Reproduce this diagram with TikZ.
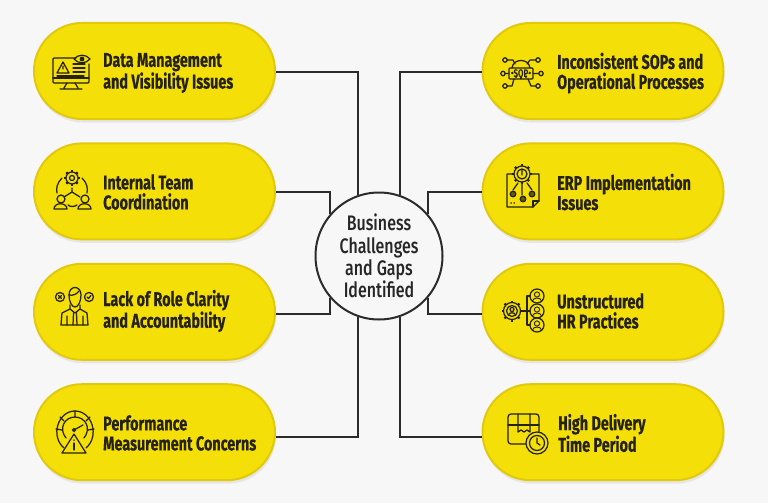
\documentclass[tikz,border=0pt]{standalone}
\usepackage{fontspec}
\setmainfont{Fira Sans}[FakeStretch=0.72]
\newfontfamily\hubfont{Fira Sans Medium}[FakeStretch=0.76]
\usetikzlibrary{positioning, shapes.misc, shadows}
\definecolor{pageGrey}{HTML}{F7F7F8}
\definecolor{pillYellow}{HTML}{F4DF08}
\definecolor{pillEdge}{HTML}{E2C90C}
\definecolor{inkDark}{HTML}{262210}
\definecolor{linkDark}{HTML}{2B2B2B}
\tikzset{
  pill/.style={rounded rectangle, draw=pillEdge, line width=2pt, fill=pillYellow, minimum width=241pt, minimum height=96pt, inner sep=0pt,
    drop shadow={opacity=0.14, shadow xshift=1pt, shadow yshift=-3.5pt}},
  pilltext/.style={anchor=west, align=left, inner sep=0pt, text=inkDark, font=\fontsize{20}{20}\selectfont\bfseries\addfontfeature{FakeBold=0.4}},
  link/.style={draw=linkDark, line width=1.7pt, line join=miter},
  icon/.style={draw=inkDark, line width=1.25pt, line cap=round, line join=round},
  hubtext/.style={font=\fontsize{21}{22.3}\hubfont, align=center, text=black!85}
}
% small gear: centre x, centre y, radius
\newcommand{\gearIcon}[3]{
  \draw[icon] (#1,#2) circle[radius=#3pt];
  \foreach \a in {0,45,...,315}
    \draw[icon, line width=2.2pt, line cap=butt] (#1,#2) ++(\a:#3) -- ++(\a:2);
}
% head and shoulders inside a circle
\newcommand{\ringPerson}[2]{
  \draw[icon] (#1,#2) circle[radius=7pt];
  \draw[icon, line width=.9pt] (#1,#2-1.5) circle[radius=2.6pt];
  \draw[icon, line width=.9pt] (#1-4.5,#2+5) .. controls (#1-4,#2+1) and (#1+4,#2+1) .. (#1+4.5,#2+5);
}
\begin{document}
\begin{tikzpicture}[x=1pt, y=-1pt, node distance=120.4pt]
  \useasboundingbox (0,0) rectangle (768,503);
  \fill[pageGrey] (0,0) rectangle (768,503);

  % Centre
  \node[circle, draw=linkDark, line width=2pt, fill=pageGrey, minimum size=127pt, inner sep=0pt] (hub) at (379,256) {};

  % Left column
  \node[pill] (data) at (154.5,71) {};
  \node[pill, below of=data] (team) {};
  \node[pill, below of=team] (role) {};
  \node[pill, below of=role] (perf) {};

  % Right column
  \node[pill] (sop) at (603,71) {};
  \node[pill, below of=sop] (erp) {};
  \node[pill, below of=erp] (hr) {};
  \node[pill, below of=hr] (delivery) {};

  % Connectors
  \draw[link] ([yshift=-1pt]data.east) -| (hub.109);
  \draw[link] ([yshift=-.3pt]team.east) -| (hub.139);
  \draw[link] ([yshift=-2.5pt]role.east) -| (hub.221);
  \draw[link] ([yshift=-5pt]perf.east) -| (hub.251);
  \draw[link] ([yshift=-1pt]sop.west) -| (hub.71);
  \draw[link] ([yshift=-.3pt]erp.west) -| (hub.41);
  \draw[link] ([yshift=-2.5pt]hr.west) -| (hub.319);
  \draw[link] ([yshift=-5pt]delivery.west) -| (hub.289);

  % Labels
  \node[hubtext] (hubText) at (hub) {Business\\Challenges\\and Gaps\\Identified};
  \node[pilltext] (dataText) at (103,73) {Data Management\\and Visibility Issues};
  \node[pilltext] (teamText) at (103,192) {Internal Team\\Coordination};
  \node[pilltext] (roleText) at (103,311) {Lack of Role Clarity\\and Accountability};
  \node[pilltext] (perfText) at (103,433) {Performance\\Measurement Concerns};
  \node[pilltext] (sopText) at (557,73) {Inconsistent SOPs and\\Operational Processes};
  \node[pilltext] (erpText) at (557,192) {ERP Implementation\\Issues};
  \node[pilltext] (hrText) at (557,311) {Unstructured\\HR Practices};
  \node[pilltext] (deliveryText) at (558,433) {High Delivery\\Time Period};

  % Icon: monitor
  \draw[icon] (76,58) -- (54,58) -- (53,59) -- (53,82) -- (54,83) -- (88,83) -- (89,82) -- (89,64);
  \draw[icon] (53,78) -- (89,78);
  \draw[icon] (67,83) -- (64,88) (75,83) -- (78,88) (60,89) -- (82,89);
  \draw[icon] (63,62) -- (69,73) -- (57,73) -- cycle (63,66) -- (63,69);
  \draw[icon] (73,64) -- (85,64) (73,68) -- (85,68) (73,72) -- (85,72) (57,76) -- (84,76);
  \draw[icon] (74,59) .. controls (78,54) and (86,54) .. (90,59) .. controls (86,64) and (78,64) .. (74,59);
  \fill[inkDark] (82,59) circle[radius=2.4pt];

  % Icon: team
  \gearIcon{72}{178}{6}
  \draw[icon] (72,178) circle[radius=2.5pt];
  \draw[icon] (62,178) .. controls (57,183) and (56,188) .. (57,193);
  \draw[icon] (82,178) .. controls (87,183) and (88,188) .. (87,193);
  \draw[icon] (72,188) -- (72,192) -- (64,197) (72,192) -- (80,197) (68,205) .. controls (70,207) and (74,207) .. (77,205);
  \draw[icon] (61,199) circle[radius=4pt] (85,199) circle[radius=4pt];
  \draw[icon] (54,209) .. controls (54,202) and (67,202) .. (67,209) -- cycle;
  \draw[icon] (78,209) .. controls (78,202) and (91,202) .. (91,209) -- cycle;

  % Icon: person
  \draw[icon] (60,297) circle[radius=4.5pt] (89,297) circle[radius=4.5pt];
  \draw[icon] (58.5,295.5) -- (61.5,298.5) (61.5,295.5) -- (58.5,298.5);
  \draw[icon] (87,297) -- (88.5,298.5) -- (91,295.5);
  \draw[icon] (69,295) .. controls (69,285) and (81,285) .. (81,295) .. controls (81,302) and (78,307) .. (75,307) .. controls (72,307) and (69,302) .. (69,295);
  \draw[icon] (69,295) .. controls (73,296) and (77,294) .. (79,291);
  \draw[icon] (70,305) -- (70,309) -- (62,313) -- (61,325) -- (88,325) -- (87,313) -- (80,309) -- (80,305);
  \draw[icon] (70,309) -- (75,313) -- (80,309) (73.5,313) -- (73,325) (76.5,313) -- (77,325) (67,325) -- (67,316) (83,325) -- (83,316);

  % Icon: gauge
  \draw[icon] (64,448) .. controls (50,436) and (58,411) .. (75,411) .. controls (92,411) and (100,436) .. (86,448);
  \draw[icon] (66,438) .. controls (58,428) and (65,417) .. (75,417) .. controls (85,417) and (92,428) .. (84,438);
  \draw[icon] (75,411) -- (75,417) (60,417) -- (64,421) (90,417) -- (86,421) (56,429) -- (62,430) (94,429) -- (88,430);
  \draw[icon] (74,430) -- (83,425);
  \draw[icon] (74,430) circle[radius=1.6pt];
  \draw[icon, fill=pillYellow] (74,434) -- (86,453) -- (62,453) -- cycle;
  \draw[icon] (74,443) -- (74,450) (74,440) -- (74,440.2);

  % Icon: SOP
  \draw[icon, rounded corners=1pt] (509,68) rectangle (533,79);
  \node[font=\fontsize{11}{11}\selectfont\bfseries, text=inkDark, inner sep=0pt] (sopMark) at (521,73.5) {SOP};
  \draw[icon] (512,68) .. controls (513,58) and (529,58) .. (530,68);
  \foreach \a in {-60,-30,0,30,60}
    \draw[icon, line width=2pt, line cap=butt] (521,68) ++(90+\a:9) -- ++(90+\a:2);
  \draw[icon] (505,60) circle[radius=2.2pt] (538,60) circle[radius=2.2pt] (503,73.5) circle[radius=2.2pt] (541,73.5) circle[radius=2.2pt] (505,86) circle[radius=2.2pt] (538,86) circle[radius=2.2pt];
  \draw[icon] (507,60) -- (513,60) -- (515,64) (536,60) -- (530,60) -- (527,64) (505,73.5) -- (509,73.5) (539,73.5) -- (533,73.5) (507,86) -- (512,86) -- (514,79) (536,86) -- (531,86) -- (528,79);

  % Icon: ERP
  \draw[icon] (513,174) -- (507,174) -- (507,207) -- (533,207) -- (539,201) -- (539,174) -- (532,174);
  \draw[icon] (533,207) -- (533,201) -- (539,201);
  \gearIcon{522}{174}{8}
  \draw[icon] (522,174) circle[radius=5pt] (522,170.5) -- (522,175);
  \draw[icon] (522,184) -- (522,195) (518,183) -- (513,190) (527,183) -- (532,190);
  \draw[icon, fill=inkDark!70!pillYellow] (513,194) circle[radius=2.8pt] (523,199) circle[radius=2.8pt] (532,194) circle[radius=2.8pt];
  \draw[icon] (511,203) -- (511.2,203) (514,203) -- (514.2,203);

  % Icon: HR
  \gearIcon{512}{311}{8.5}
  \draw[icon] (512,311) circle[radius=5.5pt];
  \draw[icon] (512,309.5) circle[radius=2pt] (508.5,315) .. controls (509,312) and (515,312) .. (515.5,315);
  \draw[icon] (530,296) -- (527,296) -- (527,325) -- (530,325) (522,311) -- (530,311);
  \ringPerson{537}{296}
  \ringPerson{537}{311}
  \ringPerson{537}{325}

  % Icon: parcel
  \draw[icon, rounded corners=3pt] (526,444) -- (508,444) -- (508,414) -- (539,414) -- (539,432);
  \draw[icon] (508,425) -- (539,425);
  \draw[icon] (518,414) -- (518,432) -- (521,430) -- (524,432) -- (527,430) -- (530,432) -- (530,414);
  \draw[icon, fill=pillYellow] (537,443) circle[radius=11pt];
  \draw[icon] (537,443) circle[radius=7.5pt] (537,438) -- (537,443) -- (540,445);
\end{tikzpicture}
\end{document}
